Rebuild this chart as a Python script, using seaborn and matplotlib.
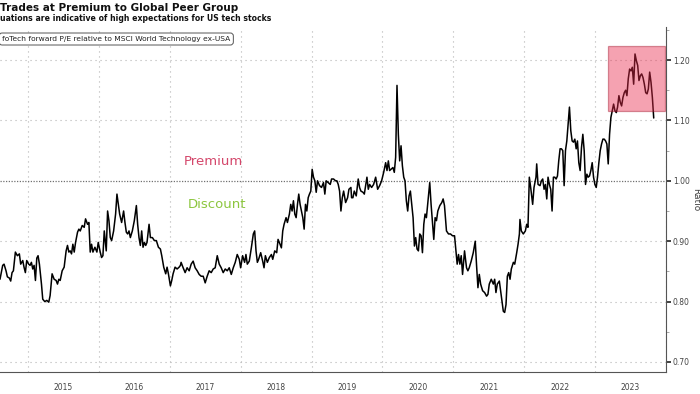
import pandas as pd
import seaborn as sns
import matplotlib.pyplot as plt
from matplotlib.patches import Rectangle
from matplotlib.ticker import MultipleLocator

sns.set_style("white")
plt.rcParams['font.family'] = ['DejaVu Sans']

# weekly-ish readings of the ratio, decimal years
dates = [
  2014.604, 2014.642, 2014.661, 2014.689, 2014.708, 2014.736, 2014.755, 2014.774, 2014.793, 2014.821,
  2014.849, 2014.877, 2014.896, 2014.925, 2014.943, 2014.962, 2014.981, 2015.009, 2015.028, 2015.047,
  2015.066, 2015.085, 2015.104, 2015.123, 2015.141, 2015.160, 2015.189, 2015.207, 2015.236, 2015.264,
  2015.292, 2015.311, 2015.339, 2015.368, 2015.396, 2015.415, 2015.434, 2015.453, 2015.481, 2015.509,
  2015.537, 2015.556, 2015.575, 2015.594, 2015.613, 2015.632, 2015.651, 2015.670, 2015.698, 2015.717,
  2015.736, 2015.764, 2015.792, 2015.811, 2015.839, 2015.858, 2015.877, 2015.896, 2015.915, 2015.943,
  2015.971, 2015.990, 2016.018, 2016.037, 2016.056, 2016.075, 2016.103, 2016.122, 2016.141, 2016.160,
  2016.179, 2016.207, 2016.235, 2016.254, 2016.273, 2016.292, 2016.320, 2016.348, 2016.367, 2016.386,
  2016.405, 2016.424, 2016.443, 2016.471, 2016.499, 2016.528, 2016.546, 2016.565, 2016.584, 2016.603,
  2016.622, 2016.641, 2016.660, 2016.678, 2016.707, 2016.726, 2016.754, 2016.782, 2016.810, 2016.839,
  2016.867, 2016.886, 2016.914, 2016.942, 2016.961, 2016.980, 2017.008, 2017.027, 2017.046, 2017.074,
  2017.103, 2017.131, 2017.150,
  2017.159, 2017.188, 2017.216, 2017.244, 2017.273, 2017.301, 2017.329, 2017.357, 2017.386, 2017.414,
  2017.442, 2017.471, 2017.499, 2017.527, 2017.555, 2017.584, 2017.612, 2017.640, 2017.669, 2017.697,
  2017.725, 2017.753, 2017.782, 2017.810, 2017.838, 2017.867, 2017.895, 2017.923, 2017.951, 2017.980,
  2017.999, 2018.027, 2018.055, 2018.074, 2018.093, 2018.121, 2018.150, 2018.178, 2018.197, 2018.216,
  2018.235, 2018.253, 2018.282, 2018.310, 2018.329, 2018.348, 2018.376, 2018.404, 2018.433, 2018.452,
  2018.480, 2018.508, 2018.527, 2018.555, 2018.574, 2018.593, 2018.612, 2018.640, 2018.659, 2018.687,
  2018.706, 2018.725, 2018.744, 2018.763, 2018.782, 2018.801, 2018.819, 2018.838, 2018.857, 2018.876,
  2018.895, 2018.914, 2018.933, 2018.952, 2018.970, 2018.989, 2019.008, 2019.027, 2019.046, 2019.065,
  2019.084, 2019.112, 2019.140, 2019.168, 2019.187, 2019.206, 2019.235, 2019.263, 2019.282, 2019.310,
  2019.338, 2019.357, 2019.376, 2019.395, 2019.414, 2019.433, 2019.452, 2019.480, 2019.508, 2019.527,
  2019.555,
  2019.564, 2019.583, 2019.602, 2019.630, 2019.658, 2019.677, 2019.696, 2019.725, 2019.744, 2019.762,
  2019.781, 2019.800, 2019.819, 2019.847, 2019.875, 2019.904, 2019.932, 2019.960, 2019.988, 2020.017,
  2020.045, 2020.064, 2020.083, 2020.101, 2020.120, 2020.148, 2020.167, 2020.186, 2020.205, 2020.224,
  2020.243, 2020.262, 2020.281, 2020.300, 2020.318, 2020.337, 2020.356, 2020.375, 2020.394, 2020.413,
  2020.432, 2020.451, 2020.469, 2020.488, 2020.507, 2020.526, 2020.545, 2020.564, 2020.583, 2020.601,
  2020.620, 2020.649, 2020.667, 2020.686, 2020.705, 2020.724, 2020.743, 2020.762, 2020.781, 2020.809,
  2020.837, 2020.856, 2020.875, 2020.903, 2020.932, 2020.960, 2020.988, 2021.017, 2021.035, 2021.054,
  2021.073, 2021.092, 2021.111, 2021.130, 2021.158, 2021.186, 2021.205, 2021.224, 2021.252, 2021.281,
  2021.309, 2021.328, 2021.347, 2021.366, 2021.385, 2021.413, 2021.441, 2021.469, 2021.488, 2021.507,
  2021.535, 2021.564, 2021.583, 2021.601, 2021.620, 2021.649, 2021.667, 2021.686, 2021.705, 2021.724,
  2021.743, 2021.762, 2021.781, 2021.800, 2021.818, 2021.847, 2021.866, 2021.894, 2021.913, 2021.932,
  2021.940, 2021.959, 2021.987, 2022.016, 2022.035, 2022.053, 2022.072, 2022.091, 2022.119, 2022.138,
  2022.166, 2022.176, 2022.195, 2022.223, 2022.242, 2022.261, 2022.280, 2022.299, 2022.318, 2022.336,
  2022.355, 2022.374, 2022.393, 2022.412, 2022.431, 2022.450, 2022.469, 2022.487, 2022.506, 2022.525,
  2022.544, 2022.563, 2022.582, 2022.601, 2022.619, 2022.638, 2022.657, 2022.676, 2022.695, 2022.714,
  2022.733, 2022.751, 2022.770, 2022.789, 2022.808, 2022.827, 2022.846, 2022.865, 2022.884, 2022.902,
  2022.921, 2022.940, 2022.959, 2022.978, 2022.997, 2023.016, 2023.034, 2023.053, 2023.072, 2023.091,
  2023.110, 2023.129, 2023.148, 2023.166, 2023.185, 2023.204, 2023.223, 2023.242, 2023.261, 2023.280,
  2023.299, 2023.317, 2023.336, 2023.355, 2023.374, 2023.393, 2023.412, 2023.431, 2023.449, 2023.468,
  2023.487, 2023.506, 2023.525, 2023.544, 2023.563, 2023.582, 2023.601, 2023.619, 2023.638, 2023.657,
  2023.676, 2023.695, 2023.714, 2023.733, 2023.751, 2023.770, 2023.789, 2023.808, 2023.827,
]
ratio = [
  0.837, 0.860, 0.862, 0.851, 0.841, 0.839, 0.834, 0.848, 0.851, 0.882,
  0.876, 0.879, 0.862, 0.868, 0.857, 0.848, 0.868, 0.862, 0.860, 0.865,
  0.854, 0.860, 0.835, 0.872, 0.876, 0.862, 0.829, 0.804, 0.800, 0.802,
  0.799, 0.810, 0.846, 0.837, 0.835, 0.829, 0.837, 0.835, 0.851, 0.857,
  0.884, 0.893, 0.882, 0.884, 0.879, 0.895, 0.882, 0.898, 0.915, 0.920,
  0.917, 0.926, 0.923, 0.937, 0.928, 0.931, 0.882, 0.895, 0.882, 0.890,
  0.882, 0.898, 0.882, 0.873, 0.876, 0.917, 0.884, 0.950, 0.934, 0.906,
  0.901, 0.917, 0.945, 0.978, 0.961, 0.945, 0.931, 0.950, 0.931, 0.915,
  0.912, 0.917, 0.906, 0.917, 0.934, 0.959, 0.928, 0.906, 0.893, 0.917,
  0.890, 0.898, 0.893, 0.898, 0.928, 0.906, 0.906, 0.901, 0.901, 0.890,
  0.887, 0.876, 0.857, 0.846, 0.857, 0.846, 0.826, 0.835, 0.846, 0.857,
  0.854, 0.857, 0.860,
  0.865, 0.856, 0.848, 0.856, 0.851, 0.862, 0.867, 0.856, 0.851, 0.845,
  0.842, 0.842, 0.831, 0.842, 0.851, 0.848, 0.854, 0.856, 0.876, 0.862,
  0.856, 0.848, 0.854, 0.851, 0.856, 0.845, 0.856, 0.865, 0.878, 0.870,
  0.856, 0.876, 0.865, 0.878, 0.862, 0.867, 0.889, 0.912, 0.917, 0.884,
  0.865, 0.870, 0.881, 0.867, 0.856, 0.876, 0.865, 0.873, 0.878, 0.870,
  0.884, 0.881, 0.903, 0.895, 0.889, 0.917, 0.928, 0.939, 0.931, 0.945,
  0.961, 0.950, 0.967, 0.945, 0.939, 0.961, 0.978, 0.961, 0.950, 0.939,
  0.920, 0.961, 0.950, 0.972, 0.978, 0.983, 1.019, 1.006, 1.000, 0.981,
  1.000, 0.992, 0.989, 0.997, 0.978, 1.000, 0.997, 0.994, 1.003, 1.003,
  1.000, 1.000, 0.994, 0.983, 0.950, 0.972, 0.983, 0.964, 0.972, 0.986,
  0.989,
  0.972, 0.972, 0.983, 0.975, 1.003, 0.989, 0.983, 0.981, 0.978, 0.992,
  1.006, 0.986, 0.994, 0.989, 0.994, 1.006, 0.986, 0.992, 1.000, 1.014,
  1.030, 1.017, 1.033, 1.017, 1.019, 1.022, 1.014, 1.039, 1.158, 1.077,
  1.033, 1.058, 1.025, 1.006, 1.000, 0.967, 0.950, 0.975, 0.983, 0.961,
  0.939, 0.892, 0.906, 0.887, 0.884, 0.912, 0.909, 0.881, 0.928, 0.945,
  0.939, 0.975, 0.997, 0.961, 0.931, 0.903, 0.939, 0.934, 0.950, 0.959,
  0.964, 0.970, 0.959, 0.917, 0.912, 0.912, 0.909, 0.909, 0.887, 0.862,
  0.878, 0.862, 0.876, 0.845, 0.884, 0.856, 0.851, 0.856, 0.867, 0.881,
  0.900, 0.859, 0.823, 0.845, 0.829, 0.818, 0.815, 0.809, 0.812, 0.829,
  0.837, 0.829, 0.837, 0.815, 0.829, 0.834, 0.818, 0.801, 0.784, 0.782,
  0.795, 0.842, 0.848, 0.837, 0.854, 0.865, 0.862, 0.881, 0.895, 0.912,
  0.936, 0.917, 0.912, 0.917, 0.928, 0.923, 1.006, 0.989, 0.961, 0.989,
  1.006, 1.028, 0.994, 0.992, 1.000, 1.003, 0.986, 0.994, 0.970, 1.006,
  0.994, 0.986, 0.950, 1.006, 1.006, 1.003, 1.008, 1.033, 1.053, 1.053,
  1.050, 0.992, 1.050, 1.066, 1.094, 1.122, 1.083, 1.066, 1.064, 1.069,
  1.053, 1.066, 1.030, 1.017, 1.055, 1.077, 1.050, 0.994, 1.011, 1.006,
  1.008, 1.017, 1.030, 1.006, 0.994, 0.989, 1.006, 1.030, 1.050, 1.061,
  1.069, 1.069, 1.066, 1.061, 1.028, 1.077, 1.105, 1.116, 1.127, 1.116,
  1.113, 1.122, 1.141, 1.130, 1.124, 1.138, 1.146, 1.150, 1.141, 1.169,
  1.185, 1.182, 1.188, 1.160, 1.210, 1.199, 1.191, 1.166, 1.174, 1.177,
  1.171, 1.160, 1.146, 1.144, 1.152, 1.180, 1.163, 1.138, 1.104,
]

year_edges = [2015, 2016, 2017, 2018, 2019, 2020, 2021, 2022, 2023, 2024]
year_labels = ["2015", "2016", "2017", "2018", "2019", "2020", "2021", "2022", "2023"]
y_ticks = [0.70, 0.80, 0.90, 1.00, 1.10, 1.20]
box_x = [2023.175, 2023.986]
box_y = [1.116, 1.2226]

df = pd.DataFrame({"date": dates, "ratio": ratio})

fig = plt.figure(figsize=(7, 3.94), dpi=100)
ax = fig.add_axes([0.0, 0.0558, 0.9514, 0.8757])

sns.lineplot(data=df, x="date", y="ratio", color="black", linewidth=1.1, ax=ax, zorder=2)

ax.set_xlim(2014.604, 2024.0)
ax.set_ylim(0.6834, 1.2547)

# grid
for x in year_edges:
  ax.axvline(x, color="#b5b5b5", lw=0.8, ls=(0, (1, 3.5)), zorder=0)
for y in y_ticks:
  if y == 1.00:
    ax.axhline(y, color="#707070", lw=0.9, ls=(0, (1, 1.2)), zorder=1)
  else:
    ax.axhline(y, color="#b5b5b5", lw=0.8, ls=(0, (1, 3.5)), zorder=0)

# y axis on the right
ax.yaxis.tick_right()
ax.yaxis.set_label_position("right")
ax.set_yticks(y_ticks)
ax.set_yticklabels(["%.2f" % v for v in y_ticks])
ax.yaxis.set_minor_locator(MultipleLocator(0.05))
ax.tick_params(axis="y", which="major", direction="out", length=3.5, width=1.3,
               color="#333333", labelsize=5.5, labelcolor="#444444", pad=1.5)
ax.tick_params(axis="y", which="minor", direction="out", length=2, width=0.6, color="#999999")
ax.set_ylabel("Ratio", rotation=270, fontsize=6.5, color="#444444", labelpad=7)

# x axis: year boundaries + quarters, labels in between
ax.set_xticks(year_edges)
ax.set_xticklabels([])
ax.xaxis.set_minor_locator(MultipleLocator(0.25))
ax.tick_params(axis="x", which="major", direction="out", length=13, width=0.7, color="#aaaaaa")
ax.tick_params(axis="x", which="minor", direction="in", length=2.5, width=0.6, color="#777777")
ax.set_xlabel("")
for i, lab in enumerate(year_labels):
  ax.text(year_edges[i] + 0.5, -0.044, lab, transform=ax.get_xaxis_transform(),
          ha="center", va="center", fontsize=5.5, color="#444444")

for side in ["top", "left"]:
  ax.spines[side].set_visible(False)
for side in ["bottom", "right"]:
  ax.spines[side].set_color("#555555")
  ax.spines[side].set_linewidth(0.8)

# highlight box
ax.add_patch(Rectangle((box_x[0], box_y[0]), box_x[1] - box_x[0], box_y[1] - box_y[0],
                       facecolor="#e8284a", edgecolor="#a01028", lw=0.9, alpha=0.43, zorder=3))

ax.text(2017.61, 1.032, "Premium", color="#d4476b", fontsize=9.5, ha="center", va="center")
ax.text(2017.67, 0.961, "Discount", color="#8cc63e", fontsize=9.5, ha="center", va="center")

fig.text(0.0, 0.979, "Trades at Premium to Global Peer Group", fontsize=7.45, fontweight="bold",
         color="#111111", va="center")
fig.text(0.0, 0.953, "uations are indicative of high expectations for US tech stocks", fontsize=5.6,
         fontweight="bold", color="#111111", va="center")
fig.text(0.003, 0.901, "foTech forward P/E relative to MSCI World Technology ex-USA", fontsize=5.4,
         color="#222222", va="center",
         bbox=dict(boxstyle="round,pad=0.4", fc="white", ec="#555555", lw=0.7))

fig.savefig("out.png", dpi=100)
